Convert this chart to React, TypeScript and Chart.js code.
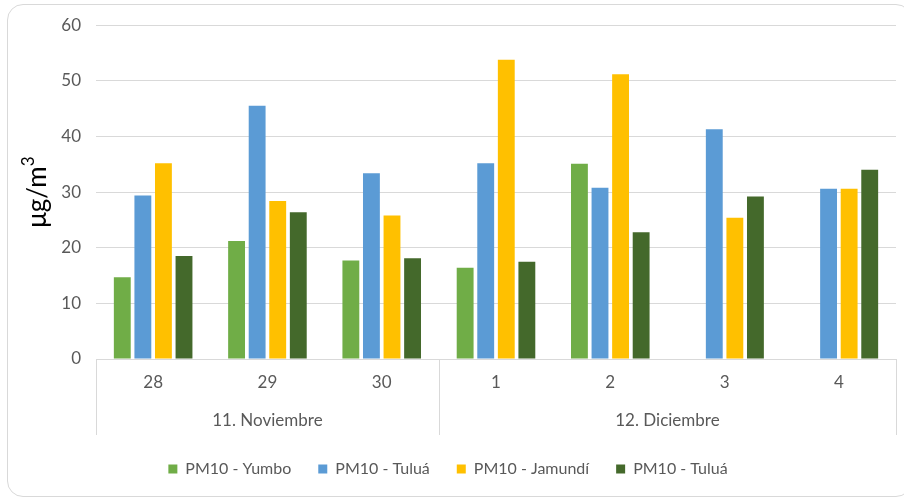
import React, { useEffect, useRef } from "react";
import { Chart, registerables } from "chart.js";

Chart.register(...registerables);

const categories = ["28", "29", "30", "1", "2", "3", "4"];
const groups = ["11. Noviembre", "12. Diciembre"];
const groupSizes = [3, 4];
const seriesNames = ["PM10 - Yumbo", "PM10 - Tuluá", "PM10 - Jamundí", "PM10 - Tuluá"];
const yumbo = [14.7, 21.2, 17.7, 16.4, 35.1, null, null];
const tulua = [29.4, 45.5, 33.4, 35.2, 30.8, 41.3, 30.6];
const jamundi = [35.2, 28.4, 25.8, 53.8, 51.2, 25.4, 30.6];
const tulua2 = [18.5, 26.4, 18.1, 17.5, 22.8, 29.2, 34.0];
const colors = ["#70AD47", "#5B9BD5", "#FFC000", "#44692B"];
const yTicks = [0, 10, 20, 30, 40, 50, 60];
const yTitleMain = "μg/m";
const yTitleSup = "3";

const FONT = "Lato, 'Open Sans', sans-serif";
const GRAY_TEXT = "#595959";
const LINE = "#d9d9d9";

const groupPlugin = {
  id: "groupLabels",
  afterDraw(chart: any) {
    const ctx = chart.ctx;
    const x = chart.scales.x;
    const area = chart.chartArea;
    const bottom = area.bottom + 76;
    const edges: number[] = [x.left];
    let idx = 0;
    groupSizes.forEach((n, gi) => {
      const start = idx;
      const end = idx + n - 1;
      idx += n;
      const right =
        gi === groupSizes.length - 1
          ? x.right
          : (x.getPixelForValue(end) + x.getPixelForValue(end + 1)) / 2;
      edges.push(right);
      const center = (x.getPixelForValue(start) + x.getPixelForValue(end)) / 2;
      ctx.save();
      ctx.fillStyle = GRAY_TEXT;
      ctx.font = `17px ${FONT}`;
      ctx.textAlign = "center";
      ctx.textBaseline = "middle";
      ctx.fillText(groups[gi], center, area.bottom + 62);
      ctx.restore();
    });
    ctx.save();
    ctx.strokeStyle = LINE;
    ctx.lineWidth = 1;
    edges.forEach((e) => {
      const px = Math.round(e) + 0.5;
      ctx.beginPath();
      ctx.moveTo(px, area.bottom);
      ctx.lineTo(px, bottom);
      ctx.stroke();
    });
    ctx.restore();

    // y-axis title with superscript
    const y = chart.scales.y;
    const cy = (y.top + y.bottom) / 2;
    ctx.save();
    ctx.translate(38, cy);
    ctx.rotate(-Math.PI / 2);
    ctx.fillStyle = "#000000";
    ctx.textBaseline = "middle";
    ctx.font = `26px ${FONT}`;
    const w1 = ctx.measureText(yTitleMain).width;
    ctx.font = `17px ${FONT}`;
    const w2 = ctx.measureText(yTitleSup).width;
    const startX = -(w1 + w2) / 2;
    ctx.font = `26px ${FONT}`;
    ctx.textAlign = "left";
    ctx.fillText(yTitleMain, startX, 0);
    ctx.font = `17px ${FONT}`;
    ctx.fillText(yTitleSup, startX + w1, -9);
    ctx.restore();
  },
};

export default function App() {
  const ref = useRef<HTMLCanvasElement | null>(null);
  useEffect(() => {
    if (!ref.current) return;
    const data = [yumbo, tulua, jamundi, tulua2];
    const chart = new Chart(ref.current, {
      type: "bar",
      data: {
        labels: categories,
        datasets: data.map((d, i) => ({
          label: seriesNames[i],
          data: d as any,
          backgroundColor: colors[i],
          borderWidth: 0,
          categoryPercentage: 0.72,
          barPercentage: 0.82,
        })),
      },
      options: {
        responsive: false,
        animation: false,
        devicePixelRatio: 1,
        layout: { padding: { left: 0, right: 8, top: 23, bottom: 11 } },
        plugins: {
          tooltip: { enabled: false },
          legend: {
            position: "bottom",
            labels: {
              boxWidth: 9,
              boxHeight: 9,
              padding: 27,
              color: GRAY_TEXT,
              font: { family: FONT, size: 16 },
            },
          },
        },
        scales: {
          x: {
            grid: { display: false },
            border: { color: LINE },
            ticks: {
              color: GRAY_TEXT,
              font: { family: FONT, size: 17 },
              padding: 5,
            },
            afterFit(scale: any) {
              scale.height = 75;
            },
          },
          y: {
            min: 0,
            max: 60,
            afterBuildTicks(scale: any) {
              scale.ticks = yTicks.map((v) => ({ value: v }));
            },
            grid: { color: LINE, drawTicks: false },
            border: { display: false },
            ticks: {
              color: GRAY_TEXT,
              font: { family: FONT, size: 17 },
              padding: 15,
            },
            afterFit(scale: any) {
              scale.width = 96;
            },
          },
        },
      },
      plugins: [groupPlugin],
    });
    return () => chart.destroy();
  }, []);
  return (
    <div style={{ position: "fixed", left: 0, top: 0, width: 904, height: 498, overflow: "hidden", background: "#fff" }}>
      <div
        style={{
          position: "absolute",
          left: 7,
          top: 4,
          width: 905,
          height: 493,
          border: `1px solid ${LINE}`,
          borderRadius: 16,
          boxSizing: "border-box",
        }}
      />
      <canvas ref={ref} width={904} height={498} style={{ position: "absolute", left: 0, top: 0, width: 904, height: 498 }} />
    </div>
  );
}
